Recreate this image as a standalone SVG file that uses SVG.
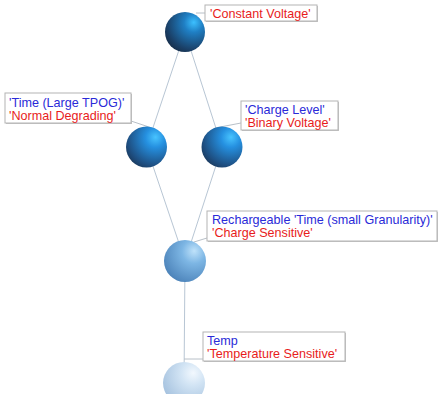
<svg xmlns="http://www.w3.org/2000/svg" width="439" height="394" viewBox="0 0 439 394">
<style>
.edge{stroke:#b8c6d4;stroke-width:1;fill:none}
.lead{stroke:#b8c0c8;stroke-width:1;fill:none}
.box{fill:#ffffff;stroke:#b4b4b4;stroke-width:1}
.shadow{fill:#c4c4c4}
text{font-family:"Liberation Sans",Arial,sans-serif;font-size:12.6px}
.b{fill:#2a2ad8}
.r{fill:#e81c1c}
</style>
<defs>
<radialGradient id="g1" cx="0.7" cy="0.3" r="0.95" fx="0.72" fy="0.26">
<stop offset="0" stop-color="#3cc0ff"/>
<stop offset="0.25" stop-color="#1f7fc4"/>
<stop offset="0.7" stop-color="#1a3f66"/>
<stop offset="1" stop-color="#141e2e"/>
</radialGradient>
<radialGradient id="g2" cx="0.7" cy="0.3" r="0.95" fx="0.72" fy="0.26">
<stop offset="0" stop-color="#48c4ff"/>
<stop offset="0.25" stop-color="#2590e0"/>
<stop offset="0.7" stop-color="#1e4f82"/>
<stop offset="1" stop-color="#18263a"/>
</radialGradient>
<radialGradient id="g3" cx="0.7" cy="0.3" r="0.95" fx="0.72" fy="0.26">
<stop offset="0" stop-color="#bfe2fa"/>
<stop offset="0.3" stop-color="#7db6e4"/>
<stop offset="0.8" stop-color="#4f86bc"/>
<stop offset="1" stop-color="#3c6c9c"/>
</radialGradient>
<radialGradient id="g4" cx="0.7" cy="0.3" r="0.95" fx="0.72" fy="0.26">
<stop offset="0" stop-color="#f2f8fe"/>
<stop offset="0.3" stop-color="#d2e4f4"/>
<stop offset="0.8" stop-color="#a8c4e0"/>
<stop offset="1" stop-color="#90b0d0"/>
</radialGradient>
</defs>
<g id="connectors">
<line class="edge" x1="185" y1="32" x2="146.5" y2="147"/>
<line class="edge" x1="185" y1="32" x2="222" y2="147"/>
<line class="edge" x1="146.5" y1="147" x2="185" y2="261"/>
<line class="edge" x1="222" y1="147" x2="185" y2="261"/>
<line class="edge" x1="185" y1="261" x2="184" y2="383"/>
<line class="lead" x1="196" y1="13" x2="205" y2="13"/>
<line class="lead" x1="131" y1="121" x2="152" y2="128"/>
<line class="lead" x1="241" y1="123" x2="215" y2="128"/>
<line class="lead" x1="207" y1="238" x2="194" y2="242"/>
<line class="lead" x1="184" y1="359" x2="203" y2="359"/>
</g>
<g id="n1">
<circle cx="185" cy="32" r="20" fill="url(#g1)"/>
<rect class="shadow" x="206" y="6" width="112" height="16"/>
<rect class="box" x="205" y="5" width="112" height="16"/>
<text class="r" x="210" y="18">'Constant Voltage'</text>
</g>
<g id="n2">
<circle cx="146.5" cy="147" r="20.5" fill="url(#g2)"/>
<rect class="shadow" x="6" y="94" width="126" height="30"/>
<rect class="box" x="5" y="93" width="126" height="30"/>
<text class="b" x="9" y="106.5">'Time (Large TPOG)'</text>
<text class="r" x="9" y="119.5">'Normal Degrading'</text>
</g>
<g id="n3">
<circle cx="222" cy="147" r="20.5" fill="url(#g2)"/>
<rect class="shadow" x="242" y="102" width="97" height="29"/>
<rect class="box" x="241" y="101" width="97" height="29"/>
<text class="b" x="245" y="114">'Charge Level'</text>
<text class="r" x="245" y="127">'Binary Voltage'</text>
</g>
<g id="n4">
<circle cx="185" cy="261" r="21" fill="url(#g3)"/>
<rect class="shadow" x="208" y="212" width="230" height="30"/>
<rect class="box" x="207" y="211" width="230" height="30"/>
<text class="b" x="212" y="224">Rechargeable 'Time (small Granularity)'</text>
<text class="r" x="212" y="237">'Charge Sensitive'</text>
</g>
<g id="n5">
<circle cx="184" cy="383" r="21" fill="url(#g4)"/>
<rect class="shadow" x="204" y="333" width="142" height="29"/>
<rect class="box" x="203" y="332" width="142" height="29"/>
<text class="b" x="207" y="344.5">Temp</text>
<text class="r" x="207" y="357.5">'Temperature Sensitive'</text>
</g>
</svg>
